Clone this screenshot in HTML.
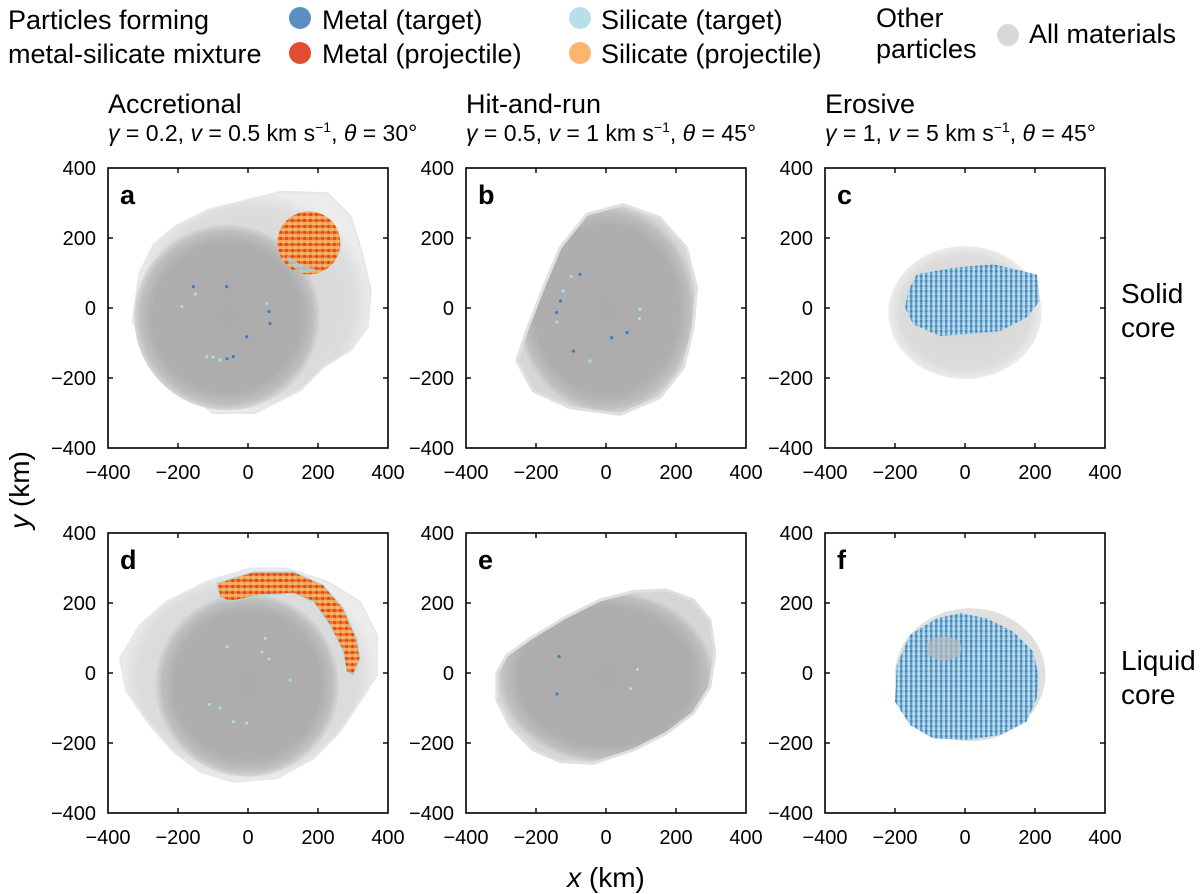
<!DOCTYPE html>
<html><head><meta charset="utf-8"><style>
html,body{margin:0;padding:0;background:#fff}
svg{display:block}
text{font-family:"Liberation Sans",Arial,sans-serif;fill:#000}
</style></head><body>
<svg id="fig" width="1200" height="894" viewBox="0 0 1200 894" xmlns="http://www.w3.org/2000/svg">
<defs>
<radialGradient id="bodyG" cx="50%" cy="50%" r="50%">
<stop offset="0" stop-color="#ababab"/><stop offset="0.8" stop-color="#aeaeae"/><stop offset="0.93" stop-color="#bebebe"/><stop offset="1" stop-color="#d6d6d6"/>
</radialGradient>
<radialGradient id="haloG" cx="50%" cy="50%" r="50%">
<stop offset="0" stop-color="#d4d4d4"/><stop offset="0.85" stop-color="#dcdcdc"/><stop offset="1" stop-color="#ececec"/>
</radialGradient>
<pattern id="projP" width="6" height="6" patternUnits="userSpaceOnUse">
<rect width="6" height="6" fill="#f0a050"/>
<circle cx="1.5" cy="1.5" r="1.6" fill="#f7b565"/><circle cx="4.5" cy="4.5" r="1.6" fill="#e2481f"/><circle cx="4.5" cy="1.5" r="1.3" fill="#f5a855"/><circle cx="1.5" cy="4.5" r="1.3" fill="#e86a2c"/>
</pattern>
<pattern id="blueP" width="5" height="5" patternUnits="userSpaceOnUse">
<rect width="5" height="5" fill="#9cc3d8"/>
<circle cx="1.2" cy="1.2" r="1.3" fill="#4583bf"/><circle cx="3.7" cy="3.7" r="1.3" fill="#b8e4ef"/><circle cx="3.7" cy="1.2" r="1.1" fill="#a8d3e4"/><circle cx="1.2" cy="3.7" r="1.1" fill="#5a92c6"/>
</pattern>
</defs>
</svg>
<script>
// ---- data (km) ----
const ticks = [-400, -200, 0, 200, 400];
const tickLabels = ["\u2212400", "\u2212200", "0", "200", "400"];
const panelLetters = ["a","b","c","d","e","f"];
// panel a
const aHalo = [[-210,232],[-115,280],[0,309],[94,332],[228,328],[294,261],[323,166],[351,51],[342,-53],[294,-120],[217,-168],[151,-234],[20,-300],[-100,-300],[-250,-190],[-330,-40],[-310,100],[-270,180]];
const aDisk = [-60,-27,265];
const aProj = [174,186,90];
const aProjSil = [[110,150],[150,125],[200,108],[150,100],[118,128]];
const aDots = [[-156,61],[-189,4],[-61,61],[53,13],[63,-44],[-118,-139],[-42,-139],[-80,-149],[-4,-82],[-100,-140],[-60,-145],[-150,40],[60,-10]];
// panel b
const bBody = [[49,296],[154,258],[230,172],[259,58],[249,-56],[221,-171],[154,-256],[40,-304],[-103,-285],[-208,-237],[-255,-151],[-227,-66],[-179,58],[-131,172],[-55,268]];
const bDots = [[-141,-13],[-122,49],[-74,96],[97,-4],[16,-85],[-46,-151],[-93,-123],[-140,-40],[-130,20],[-100,90],[60,-70],[95,-30]];
// panel c
const cHalo = [0,-13,219,190];
const cMix = [[-162,49],[-138,96],[-33,115],[81,125],[205,96],[214,20],[175,-28],[100,-66],[-5,-75],[-71,-80],[-148,-47],[-171,1]];
// panel d
const dHalo = [[-366,42],[-309,137],[-232,204],[-118,261],[6,299],[110,299],[225,261],[320,204],[368,109],[368,-6],[320,-82],[263,-168],[187,-244],[82,-301],[-42,-311],[-137,-282],[-213,-225],[-280,-149],[-347,-53]];
const dDisk = [-2,-34,262];
const dBand = [[-89,256],[15,289],[130,289],[215,251],[272,185],[310,99],[320,42],[301,-6],[282,4],[272,61],[234,137],[187,204],[130,228],[34,223],[-52,204],[-80,218]];
const dDots = [[49,99],[-42,-139],[-4,-143],[40,60],[60,40],[120,-20],[-110,-90],[-80,-100],[-60,75]];
// panel e
const eBody = [[-283,51],[-208,104],[-112,161],[-17,209],[78,233],[173,237],[249,209],[297,151],[311,56],[297,-39],[249,-115],[173,-172],[78,-220],[-36,-258],[-131,-253],[-208,-220],[-274,-153],[-312,-77],[-312,0]];
const eDots = [[-134,47],[90,10],[-140,-60],[70,-45]];
// panel f
const fHalo = [15,-5,215,190];
const fMix = [[-195,23],[-157,109],[-81,156],[-14,171],[62,156],[138,118],[195,61],[210,-6],[205,-72],[176,-139],[100,-177],[5,-191],[-90,-187],[-157,-149],[-200,-82]];
const fPatch = [-60,70,50,35];

const NS = "http://www.w3.org/2000/svg";
const svg = document.getElementById("fig");
const boxes = [[108,168],[466,168],[825,168],[108,533],[466,533],[825,533]];
const W = 280;
function mk(tag, attrs, parent){ const e=document.createElementNS(NS,tag); for(const k in attrs) e.setAttribute(k,attrs[k]); (parent||svg).appendChild(e); return e; }
function axes(i){ const [bx,by]=boxes[i]; return { sx:v=>bx+(v+400)/800*W, sy:v=>by+(400-v)/800*W, r:v=>v/800*W }; }
function poly(ax, pts, fill, parent, extra){ const d=pts.map((p,k)=>(k?"L":"M")+ax.sx(p[0]).toFixed(1)+","+ax.sy(p[1]).toFixed(1)).join("")+"Z"; const e=mk("path",Object.assign({d:d,fill:fill},extra||{}),parent); return e; }
function dots(ax, arr, parent, col){ arr.forEach((p,k)=>{ const c=mk("circle",{cx:ax.sx(p[0]),cy:ax.sy(p[1]),r:1.6,fill:k%2?"#a6dcea":col},parent);

 }); }

for(let i=0;i<6;i++){
  const ax=axes(i); const [bx,by]=boxes[i];
  const g=mk("g",{});
  
  
  if(i===0){
    const h=poly(ax,aHalo,"url(#haloG)",g,{stroke:"#e6e6e6","stroke-width":2});
     
    const c=mk("ellipse",{cx:ax.sx(aDisk[0]),cy:ax.sy(aDisk[1]),rx:ax.r(aDisk[2]),ry:ax.r(aDisk[2]),fill:"url(#bodyG)"},g);
     
    const p=mk("ellipse",{cx:ax.sx(aProj[0]),cy:ax.sy(aProj[1]),rx:ax.r(aProj[2]),ry:ax.r(aProj[2]),fill:"url(#projP)"},g);
     
    const s=poly(ax,aProjSil,"#9fd2e0",g,{opacity:0.8});
     
    dots(ax,aDots,g,"#3c7fbd");
  } else if(i===1){
    const b=poly(ax,bBody,"url(#bodyG)",g,{stroke:"#e0e0e0","stroke-width":3});
     
    dots(ax,bDots,g,"#3c7fbd");
  } else if(i===2){
    const h=mk("ellipse",{cx:ax.sx(cHalo[0]),cy:ax.sy(cHalo[1]),rx:ax.r(cHalo[2]),ry:ax.r(cHalo[3]),fill:"url(#haloG)"},g);
     
    const m=poly(ax,cMix,"url(#blueP)",g);
     
  } else if(i===3){
    const h=poly(ax,dHalo,"url(#haloG)",g,{stroke:"#e8e8e8","stroke-width":2});
     
    const c=mk("ellipse",{cx:ax.sx(dDisk[0]),cy:ax.sy(dDisk[1]),rx:ax.r(dDisk[2]),ry:ax.r(dDisk[2]),fill:"url(#bodyG)"},g);
     
    const band=poly(ax,dBand,"url(#projP)",g,{stroke:"#a6dcea","stroke-width":1});
     
    dots(ax,dDots,g,"#a6dcea");
  } else if(i===4){
    const b=poly(ax,eBody,"url(#bodyG)",g,{stroke:"#e0e0e0","stroke-width":3});
     
    dots(ax,eDots,g,"#3c7fbd");
  } else {
    const h=mk("ellipse",{cx:ax.sx(fHalo[0]),cy:ax.sy(fHalo[1]),rx:ax.r(fHalo[2]),ry:ax.r(fHalo[3]),fill:"#e0e0e0"},g);
     
    const m=poly(ax,fMix,"url(#blueP)",g);
     
    const pt=mk("ellipse",{cx:ax.sx(fPatch[0]),cy:ax.sy(fPatch[1]),rx:ax.r(fPatch[2]),ry:ax.r(fPatch[3]),fill:"#b8bcbf",opacity:0.7},g);
     
  }
  const fr=mk("rect",{x:bx,y:by,width:W,height:W,fill:"none",stroke:"#000","stroke-width":1.6},g);
   
  ticks.forEach((t,k)=>{
    if(k>0&&k<4){
      const L=5;
      mk("line",{x1:ax.sx(t),x2:ax.sx(t),y1:by,y2:by+L,stroke:"#000","stroke-width":1.4},g);
      mk("line",{x1:ax.sx(t),x2:ax.sx(t),y1:by+W,y2:by+W-L,stroke:"#000","stroke-width":1.4},g);
      mk("line",{x1:bx,x2:bx+L,y1:ax.sy(t),y2:ax.sy(t),stroke:"#000","stroke-width":1.4},g);
      mk("line",{x1:bx+W,x2:bx+W-L,y1:ax.sy(t),y2:ax.sy(t),stroke:"#000","stroke-width":1.4},g);
    }
    const xl=mk("text",{x:ax.sx(t),y:by+W+31,"font-size":20,"text-anchor":"middle"},g);
    xl.textContent=tickLabels[k];
     
    const yl=mk("text",{x:bx-12,y:ax.sy(t)+7,"font-size":20,"text-anchor":"end"},g);
    yl.textContent=tickLabels[k];
     
  });
  const lt=mk("text",{x:bx+12,y:by+36,"font-size":27,"font-weight":"bold"},g);
  lt.textContent=panelLetters[i];
   
}
</script>
<script>
const svg2=document.getElementById("fig");
const html=`
<g font-size="27">
<text x="8" y="29">Particles forming</text>
<text x="8" y="63">metal-silicate mixture</text>
<circle cx="300" cy="18" r="11" fill="#5b8fc4"/>
<text x="322" y="29">Metal (target)</text>
<circle cx="300" cy="53" r="11" fill="#e24d32"/>
<text x="322" y="63">Metal (projectile)</text>
<circle cx="580" cy="18" r="11" fill="#b6dfea"/>
<text x="601" y="29">Silicate (target)</text>
<circle cx="580" cy="53" r="11" fill="#fbb56c"/>
<text x="601" y="63">Silicate (projectile)</text>
<text x="876" y="27">Other</text>
<text x="876" y="58">particles</text>
<circle cx="1008" cy="35" r="11" fill="#d8d8d8"/>
<text x="1029" y="43">All materials</text>
</g>
<g>
<text x="108" y="113" font-size="27">Accretional</text>
<text x="108" y="141" font-size="23"><tspan font-style="italic">γ</tspan> = 0.2, <tspan font-style="italic">v</tspan> = 0.5 km s<tspan font-size="14" dy="-9">−1</tspan><tspan dy="9">, </tspan><tspan font-style="italic">θ</tspan> = 30°</text>
<text x="466" y="113" font-size="27">Hit-and-run</text>
<text x="466" y="141" font-size="23"><tspan font-style="italic">γ</tspan> = 0.5, <tspan font-style="italic">v</tspan> = 1 km s<tspan font-size="14" dy="-9">−1</tspan><tspan dy="9">, </tspan><tspan font-style="italic">θ</tspan> = 45°</text>
<text x="825" y="113" font-size="27">Erosive</text>
<text x="825" y="141" font-size="23"><tspan font-style="italic">γ</tspan> = 1, <tspan font-style="italic">v</tspan> = 5 km s<tspan font-size="14" dy="-9">−1</tspan><tspan dy="9">, </tspan><tspan font-style="italic">θ</tspan> = 45°</text>
</g>
<text x="1121" y="303" font-size="28">Solid</text>
<text x="1121" y="337" font-size="28">core</text>
<text x="1121" y="670" font-size="28">Liquid</text>
<text x="1121" y="704" font-size="28">core</text>
<text x="606" y="887" font-size="28" text-anchor="middle"><tspan font-style="italic">x</tspan> (km)</text>
<text x="0" y="0" font-size="28" text-anchor="middle" transform="translate(29,490) rotate(-90)"><tspan font-style="italic">y</tspan> (km)</text>
`;
svg2.insertAdjacentHTML("beforeend", html);
</script>
</body></html>
